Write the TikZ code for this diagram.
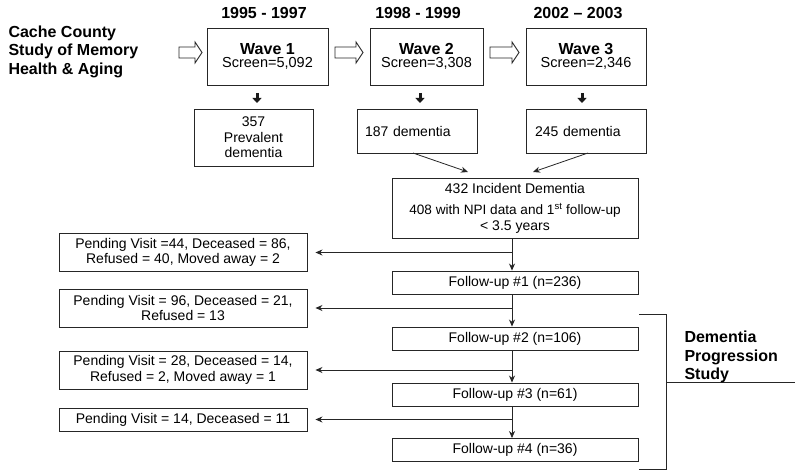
\documentclass[tikz,border=0pt]{standalone}
\usepackage{fontspec}
\setmainfont{Liberation Sans}
\usetikzlibrary{arrows.meta}
\begin{document}
\begin{tikzpicture}[x=1pt,y=-1pt,
  box/.style={draw=black!85,line width=0.9pt,inner sep=0pt,align=center,
    font=\fontsize{14}{15.5}\selectfont},
  wavebox/.style={box,minimum height=57pt,font=\fontsize{14.5}{13.5}\selectfont},
  leftbox/.style={box,minimum width=248pt},
  fubox/.style={box,minimum width=246pt,minimum height=23pt},
  head/.style={font=\bfseries\fontsize{16}{18.5}\selectfont},
  conn/.style={draw=black!85,line width=0.8pt,-{Stealth[length=7pt,width=6pt]}},
  thick arrow/.style={draw=black!90,line width=3pt,-{Triangle[length=5pt,width=9pt]}},
  pics/hollowarr/.style={code={
    \draw[black!85,line width=0.9pt,fill=white,line join=miter]
      (0,-5.5) -- (#1-7,-5.5) -- (#1-7,-10.5) -- (#1,0) -- (#1-7,10.5)
      -- (#1-7,5.5) -- (0,5.5) -- cycle;}}
]
\fill[white] (0,0) rectangle (800,476);
\useasboundingbox (0,0) rectangle (800,476);

% titles
\node[head,align=left,anchor=west] (title) at (5,51.5) {Cache County\\Study of Memory\\Health \& Aging};
\node[head] (y1) at (264,13) {1995 - 1997};
\node[head] (y2) at (418,13) {1998 - 1999};
\node[head] (y3) at (578,13) {2002 -- 2003};

% hollow arrows
\pic at (179,52.5) {hollowarr=23};
\pic at (335,52.5) {hollowarr=28};
\pic at (490,52.5) {hollowarr=29};

% waves
\node[wavebox,minimum width=121pt] (w1) at (267.5,56.5) {{\bfseries\fontsize{16}{16}\selectfont Wave 1}\\Screen=5,092};
\node[wavebox,minimum width=113pt] (w2) at (426.5,56.5) {{\bfseries\fontsize{16}{16}\selectfont Wave 2}\\Screen=3,308};
\node[wavebox,minimum width=120pt] (w3) at (586,56.5) {{\bfseries\fontsize{16}{16}\selectfont Wave 3}\\Screen=2,346};

% dementia boxes
\node[box,minimum width=119pt,minimum height=57pt] (p1) at (253.5,137.5) {357\\Prevalent\\dementia};
\node[box,minimum width=120pt,minimum height=44pt,inner xsep=8pt,text width=104pt,align=left] (p2) at (417,131) {187 dementia};
\node[box,minimum width=120pt,minimum height=44pt,inner xsep=9pt,text width=102pt,align=left] (p3) at (586,131) {245 dementia};

% thick down arrows
\coordinate (a1) at (257,93); \coordinate (b1) at (257,103);
\coordinate (a2) at (420,93); \coordinate (b2) at (420,103);
\coordinate (a3) at (582,93); \coordinate (b3) at (582,103);
\draw[thick arrow] (a1) -- (b1);
\draw[thick arrow] (a2) -- (b2);
\draw[thick arrow] (a3) -- (b3);

% incident
\node[box,minimum width=246pt,minimum height=60pt] (inc) at (515,208)
  {432 Incident Dementia\\[6pt]{\fontsize{13.6}{15.5}\selectfont 408 with NPI data and 1\textsuperscript{st} follow-up}\\< 3.5 years};
\coordinate (t2) at (468,172);
\coordinate (t3) at (533,172);
\coordinate (s2) at (413,153);
\coordinate (s3) at (588,153);
\draw[conn] (s2) -- (t2);
\draw[conn] (s3) -- (t3);

% follow-ups
\node[fubox] (f1) at (515,282.5) {Follow-up \#1 (n=236)};
\node[fubox] (f2) at (515,338.5) {Follow-up \#2 (n=106)};
\node[fubox] (f3) at (515,394.5) {Follow-up \#3 (n=61)};
\node[fubox] (f4) at (515,450) {Follow-up \#4 (n=36)};

% left boxes
\node[leftbox,minimum height=38pt] (l1) at (183,252.5) {Pending Visit =44, Deceased = 86,\\Refused = 40, Moved away = 2};
\node[leftbox,minimum height=38pt] (l2) at (183,308) {Pending Visit = 96, Deceased = 21,\\Refused = 13};
\node[leftbox,minimum height=38pt] (l3) at (183,370) {Pending Visit = 28, Deceased = 14,\\Refused = 2, Moved away = 1};
\node[leftbox,minimum height=23pt] (l4) at (183,419.5) {Pending Visit = 14, Deceased = 11};

% spine
\coordinate (vx) at (512,0);
\draw[conn] (inc.south -| vx) -- (f1.north -| vx);
\draw[conn] (f1.south -| vx) -- (f2.north -| vx);
\draw[conn] (f2.south -| vx) -- (f3.north -| vx);
\draw[conn] (f3.south -| vx) -- (f4.north -| vx);
\draw[conn,shorten >=8pt] (vx |- l1.east) -- (l1.east);
\draw[conn,shorten >=8pt] (vx |- l2.east) -- (l2.east);
\draw[conn,shorten >=8pt] (vx |- l3.east) -- (l3.east);
\draw[conn,shorten >=8pt] (vx |- l4.east) -- (l4.east);

% bracket
\coordinate (bt) at (639,314);
\coordinate (bb) at (639,469);
\coordinate (bm) at (666,382);
\coordinate (be) at (795,382);
\draw[black!85,line width=0.9pt] (bt) -- (bt -| bm) -- (bb -| bm) -- (bb);
\draw[black!85,line width=0.9pt] (bm) -- (be);
\node[head,align=left,anchor=west] (dps) at (681,357) {Dementia\\Progression\\Study};
\end{tikzpicture}
\end{document}
